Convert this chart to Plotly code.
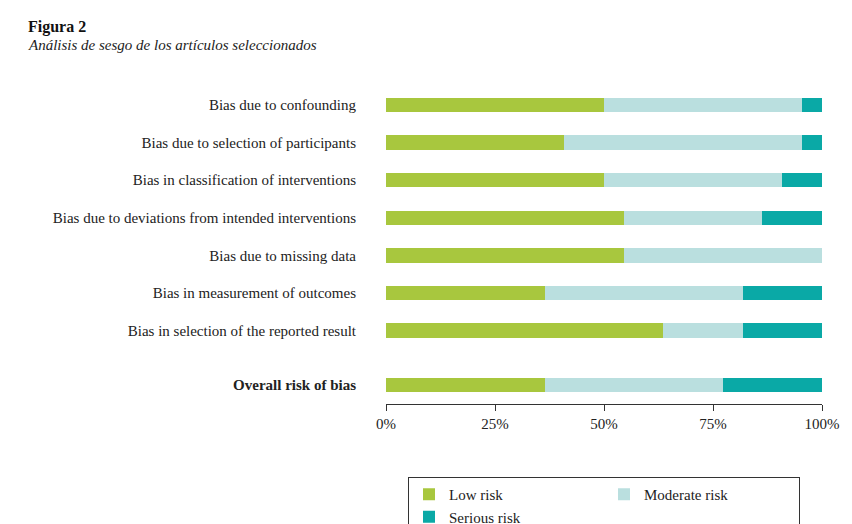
import plotly.graph_objects as go

domains = [
    "Bias due to confounding",
    "Bias due to selection of participants",
    "Bias in classification of interventions",
    "Bias due to deviations from intended interventions",
    "Bias due to missing data",
    "Bias in measurement of outcomes",
    "Bias in selection of the reported result",
    "<b>Overall risk of bias</b>",
]
# percentages (22 studies)
low = [50.0, 40.9, 50.0, 54.5, 54.5, 36.4, 63.6, 36.4]
moderate = [45.5, 54.5, 40.9, 31.8, 45.5, 45.5, 18.2, 40.9]
serious = [4.5, 4.5, 9.1, 13.6, 0.0, 18.2, 18.2, 22.7]

ypos = [0, 1, 2, 3, 4, 5, 6, 7.45]

fig = go.Figure()
for name, vals, col in [("Low risk", low, "#a8c73e"),
                        ("Moderate risk", moderate, "#badfdf"),
                        ("Serious risk", serious, "#0aa9a6")]:
    fig.add_trace(go.Bar(y=ypos, x=vals, name=name, orientation="h",
                         marker=dict(color=col, line=dict(width=0)), width=0.38,
                         hoverinfo="x+name"))

# plot area: x 378..814 px, y 78..396 px
def py(p):
    return (396 - p) / 318

fig.update_layout(
    barmode="stack",
    width=852, height=524,
    margin=dict(l=378, r=38, t=78, b=128, autoexpand=False),
    plot_bgcolor="white", paper_bgcolor="white",
    font=dict(family="Liberation Serif, DejaVu Serif, serif", size=15, color="#222"),
    xaxis=dict(range=[0, 100], tickvals=[0, 25, 50, 75, 100],
               ticktext=["0%", "25%", "50%", "75%", "100%"],
               showline=True, linecolor="#333", ticks="outside", ticklen=6,
               tickcolor="#333", showgrid=False, zeroline=False, automargin=False),
    yaxis=dict(range=[7.95, -0.5], tickvals=ypos, ticktext=domains,
               showgrid=False, zeroline=False, ticklen=26, ticks="outside",
               tickcolor="rgba(0,0,0,0)", automargin=False),
    legend=dict(orientation="h", x=0.5, xanchor="center", y=py(469), yanchor="top",
                bordercolor="#333", borderwidth=1, traceorder="normal",
                font=dict(size=15), entrywidth=150),
    annotations=[
        dict(text="<b>Figura 2</b>", x=(18 - 378) / 436, y=py(8), xref="paper", yref="paper",
             showarrow=False, font=dict(size=16, color="#111"), xanchor="left", yanchor="top"),
        dict(text="<i>Análisis de sesgo de los artículos seleccionados</i>", x=(18 - 378) / 436,
             y=py(27), xref="paper", yref="paper",
             showarrow=False, font=dict(size=15, color="#222"), xanchor="left", yanchor="top"),
    ],
)

fig.write_html("out.html")
